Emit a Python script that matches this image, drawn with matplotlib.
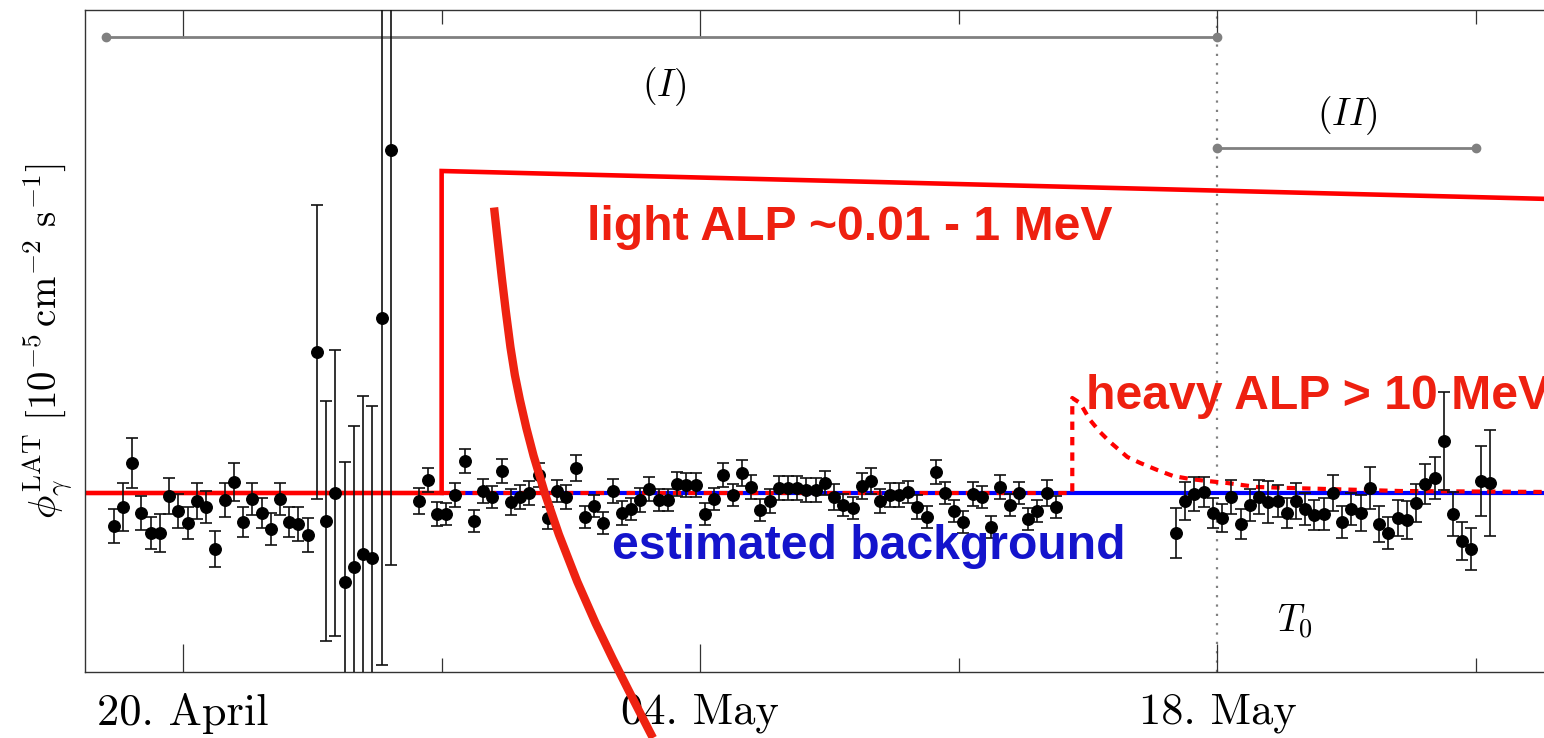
"""Fermi-LAT photon flux around the event, with light/heavy ALP signal sketches."""

import matplotlib

matplotlib.use("Agg")
import matplotlib.pyplot as plt

# time axis: days after 20 April (bins are 6 h wide, centred on the bin)
t_early = [-1.875, -1.625, -1.375, -1.125, -0.875, -0.625, -0.375, -0.125,
           0.125, 0.375, 0.625, 0.875, 1.125, 1.375, 1.625, 1.875, 2.125,
           2.375, 2.625, 2.875, 3.125, 3.375]
flux_early = [4.67, 4.86, 5.30, 4.80, 4.60, 4.60, 4.97, 4.82, 4.70, 4.92,
              4.86, 4.44, 4.93, 5.11, 4.71, 4.94, 4.80, 4.64, 4.94, 4.71,
              4.69, 4.58]
err_early = [0.17, 0.24, 0.25, 0.17, 0.16, 0.19, 0.18, 0.17, 0.16, 0.18,
             0.16, 0.18, 0.17, 0.19, 0.15, 0.16, 0.15, 0.16, 0.16, 0.15,
             0.17, 0.17]

# poorly constrained bins (large exposure gaps)
t_noisy = [3.625, 3.875, 4.125, 4.375, 4.625, 4.875, 5.125, 5.375, 5.625]
flux_noisy = [6.41, 4.72, 5.00, 4.11, 4.26, 4.39, 4.35, 6.75, 8.43]
err_noisy = [1.47, 1.20, 1.43, 1.20, 1.41, 1.58, 1.52, 3.47, 4.15]

t_mid = [6.375, 6.625, 6.875, 7.125, 7.375, 7.625, 7.875, 8.125, 8.375,
         8.625, 8.875, 9.125, 9.375, 9.625, 9.875, 10.125, 10.375, 10.625,
         10.875, 11.125, 11.375, 11.625, 11.875, 12.125, 12.375, 12.625,
         12.875, 13.125, 13.375, 13.625, 13.875, 14.125, 14.375, 14.625,
         14.875, 15.125, 15.375, 15.625, 15.875, 16.125, 16.375, 16.625,
         16.875, 17.125, 17.375, 17.625, 17.875, 18.125, 18.375, 18.625,
         18.875, 19.125, 19.375, 19.625, 19.875, 20.125, 20.375, 20.625,
         20.875, 21.125, 21.375, 21.625, 21.875, 22.125, 22.375, 22.625,
         22.875, 23.125, 23.375, 23.625]
flux_mid = [4.92, 5.13, 4.79, 4.79, 4.98, 5.32, 4.72, 5.02, 4.96, 5.22,
            4.91, 4.96, 5.00, 5.18, 4.75, 5.02, 4.96, 5.25, 4.76, 4.87,
            4.70, 5.02, 4.80, 4.84, 4.93, 5.04, 4.93, 4.93, 5.09, 5.08,
            5.08, 4.79, 4.94, 5.18, 4.98, 5.20, 5.06, 4.83, 4.92, 5.05,
            5.05, 5.05, 5.03, 5.03, 5.10, 4.96, 4.88, 4.85, 5.07, 5.12,
            4.92, 4.98, 4.98, 5.01, 4.86, 4.76, 5.21, 5.00, 4.82, 4.71,
            4.99, 4.96, 4.66, 5.06, 4.88, 5.00, 4.74, 4.82, 5.00, 4.86]
err_mid = [0.13, 0.12, 0.12, 0.11, 0.12, 0.12, 0.11, 0.12, 0.11, 0.12,
           0.13, 0.12, 0.12, 0.12, 0.11, 0.11, 0.12, 0.13, 0.11, 0.11,
           0.11, 0.12, 0.12, 0.11, 0.12, 0.12, 0.11, 0.11, 0.12, 0.12,
           0.12, 0.11, 0.11, 0.12, 0.11, 0.13, 0.12, 0.11, 0.12, 0.12,
           0.12, 0.12, 0.12, 0.12, 0.12, 0.13, 0.11, 0.11, 0.13, 0.13,
           0.12, 0.12, 0.12, 0.11, 0.12, 0.11, 0.12, 0.11, 0.11, 0.11,
           0.12, 0.11, 0.11, 0.12, 0.11, 0.11, 0.11, 0.11, 0.13, 0.11]

t_late = [26.875, 27.125, 27.375, 27.625, 27.875, 28.125, 28.375, 28.625,
          28.875, 29.125, 29.375, 29.625, 29.875, 30.125, 30.375, 30.625,
          30.875, 31.125, 31.375, 31.625, 31.875, 32.125, 32.375, 32.625,
          32.875, 33.125, 33.375, 33.625, 33.875, 34.125, 34.375, 34.625,
          34.875, 35.125, 35.375]
flux_late = [4.60, 4.92, 4.99, 5.01, 4.80, 4.75, 4.96, 4.69, 4.88, 4.96,
             4.91, 4.92, 4.80, 4.92, 4.84, 4.78, 4.79, 5.00, 4.71, 4.84,
             4.80, 5.05, 4.69, 4.60, 4.75, 4.73, 4.90, 5.09, 5.15, 5.52,
             4.79, 4.52, 4.44, 5.12, 5.10]
err_late = [0.25, 0.19, 0.17, 0.15, 0.15, 0.14, 0.17, 0.15, 0.16, 0.17,
            0.21, 0.16, 0.15, 0.18, 0.16, 0.15, 0.16, 0.18, 0.16, 0.16,
            0.18, 0.21, 0.18, 0.16, 0.18, 0.19, 0.19, 0.20, 0.21, 0.49,
            0.22, 0.19, 0.21, 0.35, 0.53]

# model curves
bkg_level = 5.0
t_bkg = [7.0, 37.0]
t_light = [-2.653, 7.0, 7.0, 37.0]
flux_light = [5.0, 5.0, 8.22, 7.94]
t_heavy = [7.0, 24.07, 24.07, 24.28, 24.55, 24.82, 25.09, 25.56, 25.91,
           26.37, 26.80, 27.26, 27.72, 28.26, 29.07, 29.97, 32.95, 37.0]
flux_heavy = [5.0, 5.0, 5.95, 5.90, 5.73, 5.61, 5.51, 5.36, 5.30, 5.23,
              5.17, 5.14, 5.12, 5.10, 5.06, 5.05, 5.02, 5.01]
# steep falling curve (runs past the bottom of the frame)
t_fall = [8.419, 8.516, 8.628, 8.733, 8.863, 8.982, 9.118, 9.293, 9.488,
          9.802, 10.173, 10.671, 11.172, 11.627, 12.055, 12.626, 12.721]
flux_fall = [7.855, 7.53, 7.156, 6.83, 6.457, 6.18, 5.932, 5.65, 5.373,
             4.988, 4.586, 4.114, 3.694, 3.345, 3.03, 2.617, 2.55]

# analysis windows and reference time
t0 = 28.0
window_1 = [-2.08, 28.0]
window_2 = [28.0, 35.0]

major_days = [0, 14, 28]
major_labels = ["20. April", "04. May", "18. May"]
minor_days = [7, 21, 35]

RED = "#ff0000"
CURVE_RED = "#ee2211"
TEXT_RED = "#ee2010"
BLUE = "#0000ff"
TEXT_BLUE = "#1414cc"
GREY = "#808080"


def make_figure() -> None:
    plt.rcParams["mathtext.fontset"] = "cm"
    fig = plt.figure(figsize=(15.44, 7.38), dpi=100)
    ax = fig.add_axes([85 / 1544, 66 / 738, 1465 / 1544, 662 / 738])

    ax.plot(t_bkg, [bkg_level, bkg_level], color=BLUE, lw=3.0, zorder=2)
    ax.plot(t_light, flux_light, color=RED, lw=3.3, zorder=2.2,
            solid_joinstyle="miter")
    ax.plot(t_heavy, flux_heavy, color=RED, lw=3.0, dashes=(2.0, 1.7),
            zorder=2.1)

    for t, f, e in [(t_early, flux_early, err_early),
                    (t_noisy, flux_noisy, err_noisy),
                    (t_mid, flux_mid, err_mid),
                    (t_late, flux_late, err_late)]:
        ax.errorbar(t, f, yerr=e, fmt="o", color="black", ecolor="#111111",
                    ms=8.3, elinewidth=1.2, capsize=4.5, capthick=1.2,
                    zorder=3)

    ax.plot(t_fall, flux_fall, color=CURVE_RED, lw=6.0, zorder=5,
            clip_on=False, solid_capstyle="butt")

    # windows (I), (II) and T0
    ax.plot(window_1, [9.557, 9.557], color=GREY, lw=2.0, marker="o", ms=6,
            zorder=2)
    ax.plot(window_2, [8.453, 8.453], color=GREY, lw=2.0, marker="o", ms=6,
            zorder=2)
    ax.axvline(t0, color=GREY, lw=1.6, dashes=(1.0, 3.2), zorder=1.5)
    ax.text(13.02, 9.06, r"$(I)$", fontsize=27, ha="center", va="center")
    ax.text(31.51, 8.77, r"$(II)$", fontsize=27, ha="center", va="center")
    ax.text(30.10, 3.71, r"$T_0$", fontsize=27, ha="center", va="center")

    font = dict(fontsize=34.7, fontweight="bold", family="Liberation Sans",
                ha="left", va="baseline")
    ax.text(10.94, 7.53, "light ALP ~0.01 - 1 MeV", color=TEXT_RED, **font)
    ax.text(24.45, 5.84, "heavy ALP > 10 MeV", color=TEXT_RED,
            clip_on=False, **font)
    ax.text(11.61, 4.34, "estimated background", color=TEXT_BLUE, **font)

    ax.set_xlim(-2.653, 37.0)
    ax.set_ylim(3.21, 9.83)
    ax.set_xticks(major_days)
    ax.set_xticklabels(major_labels, family="cmr10", fontsize=32)
    ax.set_xticks(minor_days, minor=True)
    ax.set_yticks([])
    ax.tick_params(axis="x", which="both", direction="in", top=True,
                   color="#333333", width=0.9, pad=15)
    ax.tick_params(axis="x", which="major", length=20)
    ax.tick_params(axis="x", which="minor", length=10)
    for s in ax.spines.values():
        s.set_color("#333333")
        s.set_linewidth(1.0)

    ax.set_ylabel(r"$\phi_\gamma^{\rm LAT}\ [10^{-5}\,{\rm cm}^{-2}\ {\rm s}^{-1}]$",
                  fontsize=28, labelpad=8)

    fig.savefig("out.png", dpi=100)
    plt.close(fig)


if __name__ == "__main__":
    make_figure()
